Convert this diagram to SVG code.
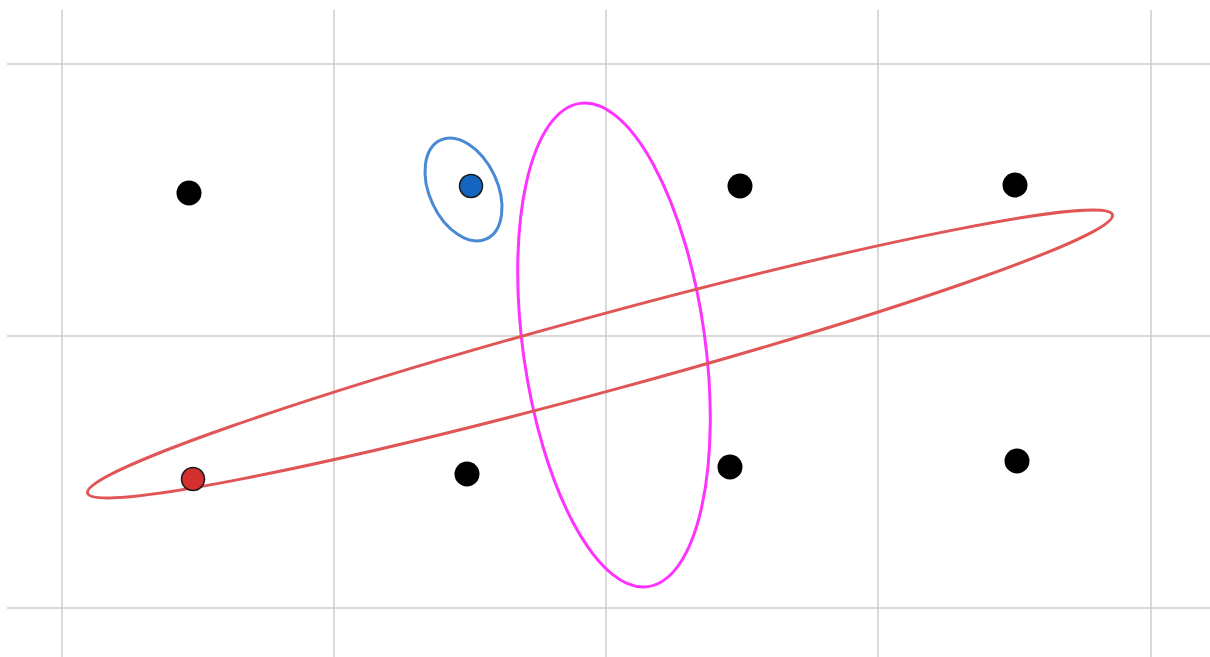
<svg xmlns="http://www.w3.org/2000/svg" width="1210" height="657" viewBox="0 0 1210 657">
<style>
.grid{stroke:#cccccc;stroke-width:1.5;fill:none}
.dot{fill:#000}
.ell{fill:none;stroke-width:3}
</style>
<rect width="1210" height="657" fill="#fff"/>
<g id="grid">
<line class="grid" x1="62" y1="10" x2="62" y2="657"/>
<line class="grid" x1="334" y1="10" x2="334" y2="657"/>
<line class="grid" x1="606" y1="10" x2="606" y2="657"/>
<line class="grid" x1="878" y1="10" x2="878" y2="657"/>
<line class="grid" x1="1151" y1="10" x2="1151" y2="657"/>
<line class="grid" x1="7" y1="64" x2="1210" y2="64"/>
<line class="grid" x1="7" y1="336" x2="1210" y2="336"/>
<line class="grid" x1="7" y1="608" x2="1210" y2="608"/>
</g>
<g id="ellipses">
<ellipse id="magenta" class="ell" stroke="#ff33ff" cx="614" cy="345" rx="91" ry="244" transform="rotate(-8 614 345)"/>
<ellipse id="red" class="ell" stroke="#e05555" cx="600" cy="354" rx="531" ry="38" transform="rotate(-15.2 600 354)"/>
<ellipse id="blue" class="ell" stroke="#4a8ad4" cx="463.5" cy="189.5" rx="34" ry="54.5" transform="rotate(-25 463.5 189.5)"/>
</g>
<g id="dots">
<circle class="dot" cx="189" cy="193" r="12.5"/>
<circle cx="471" cy="186" r="11.5" fill="#1565c0" stroke="#1a1a1a" stroke-width="1.5"/>
<circle class="dot" cx="740" cy="186" r="12.5"/>
<circle class="dot" cx="1015" cy="185" r="12.5"/>
<circle cx="193" cy="479" r="11.5" fill="#d32f2f" stroke="#1a1a1a" stroke-width="1.5"/>
<circle class="dot" cx="467" cy="474" r="12.5"/>
<circle class="dot" cx="730" cy="467" r="12.5"/>
<circle class="dot" cx="1017" cy="461" r="12.5"/>
</g>
</svg>
